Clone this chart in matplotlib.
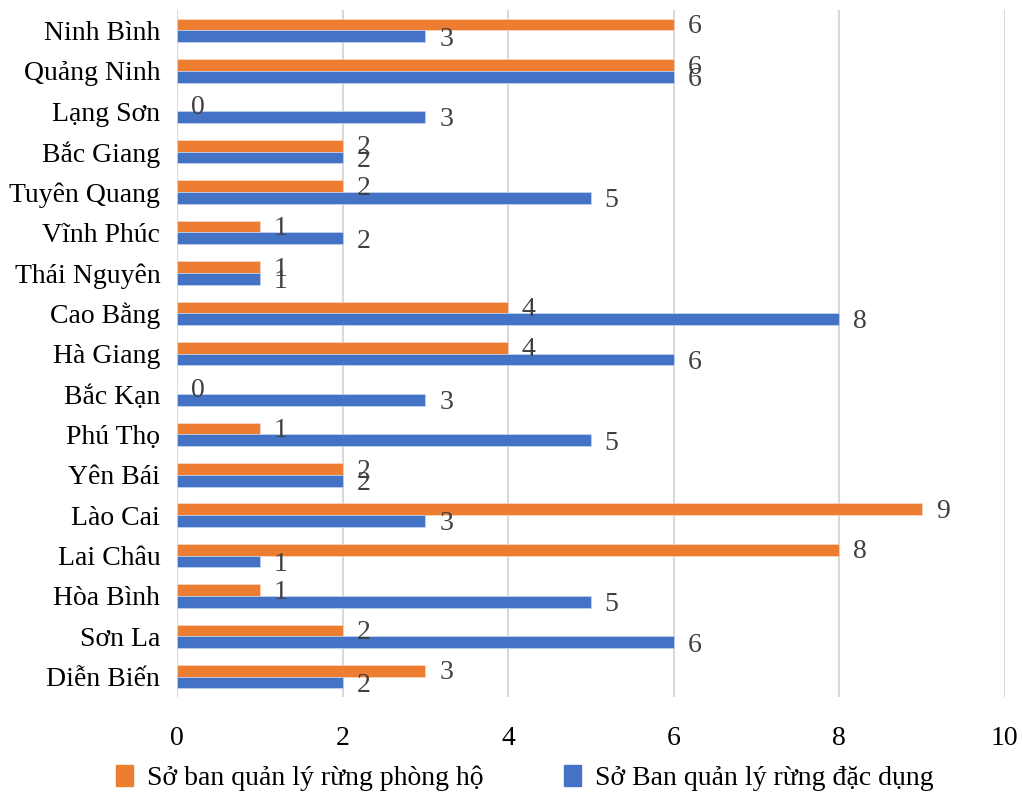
import matplotlib
matplotlib.use("Agg")
import numpy as np
import matplotlib.pyplot as plt
from matplotlib.patches import Patch

# provinces, listed bottom to top
provinces = ["Diễn Biến", "Sơn La", "Hòa Bình", "Lai Châu", "Lào Cai", "Yên Bái",
             "Phú Thọ", "Bắc Kạn", "Hà Giang", "Cao Bằng", "Thái Nguyên", "Vĩnh Phúc",
             "Tuyên Quang", "Bắc Giang", "Lạng Sơn", "Quảng Ninh", "Ninh Bình"]
phong_ho = [3, 2, 1, 8, 9, 2, 1, 0, 4, 4, 1, 1, 2, 2, 0, 6, 6]
dac_dung = [2, 6, 5, 1, 3, 2, 5, 3, 6, 8, 1, 2, 5, 2, 3, 6, 3]
series_names = ["Sở ban quản lý rừng phòng hộ", "Sở Ban quản lý rừng đặc dụng"]
x_ticks = [0, 2, 4, 6, 8, 10]

orange = "#ED7D31"
blue = "#4472C4"
label_gray = "#404040"

plt.rcParams['font.family'] = ['Liberation Serif', 'DejaVu Serif']

fig = plt.figure(figsize=(10.23, 7.92), dpi=100)
ax = fig.add_axes([0.173, 0.12, 0.809, 0.867])

y = np.arange(len(provinces))
h = 0.29
ax.barh(y + h / 2, phong_ho, height=h, color=orange, edgecolor="#f8d9c5", linewidth=0.5, zorder=3)
ax.barh(y - h / 2, dac_dung, height=h, color=blue, edgecolor="#c9d5ee", linewidth=0.5, zorder=3)

# value labels just past the end of each bar
for yi, v in zip(y, phong_ho):
    ax.annotate(str(v), (v, yi + h / 2), xytext=(10, -1.5), textcoords="offset points",
                ha="left", va="center", fontsize=20, color=label_gray, zorder=4)
for yi, v in zip(y, dac_dung):
    ax.annotate(str(v), (v, yi - h / 2), xytext=(10, -2), textcoords="offset points",
                ha="left", va="center", fontsize=20, color=label_gray, zorder=4)

ax.set_xlim(0, 10)
ax.set_ylim(-0.5, len(provinces) - 0.5)
ax.set_xticks(x_ticks)
ax.set_yticks(y)
ax.set_yticklabels(provinces)
ax.tick_params(axis="x", length=0, pad=21, labelsize=20, labelcolor="black")
ax.tick_params(axis="y", length=0, pad=12, labelsize=20, labelcolor="black")
ax.grid(axis="x", color="#d9d9d9", linewidth=1.5, zorder=0)
for s in ax.spines.values():
    s.set_visible(False)

handles = [Patch(color=orange), Patch(color=blue)]
fig.legend(handles, series_names, loc="center", bbox_to_anchor=(0.513, 0.018),
           ncol=2, frameon=False, fontsize=20, handlelength=0.6, handleheight=0.8,
           handletextpad=0.5, columnspacing=2.9)

fig.savefig("out.png", dpi=100)
